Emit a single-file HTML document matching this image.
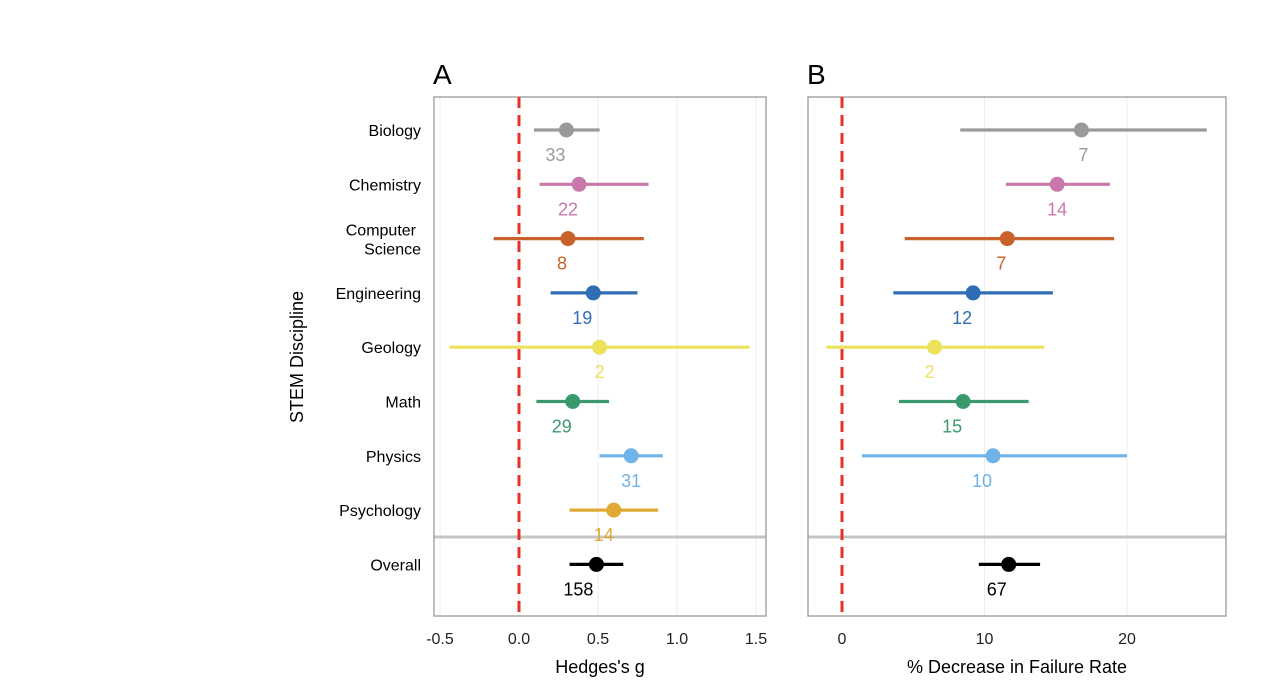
<!DOCTYPE html>
<html><head><meta charset="utf-8"><style>
body{margin:0;background:#fff;font-family:"Liberation Sans",Arial,sans-serif}
</style></head><body>
<svg id="c" width="1262" height="692" xmlns="http://www.w3.org/2000/svg" font-family="Liberation Sans, Arial, sans-serif"></svg>
<script>
const categories=["Biology","Chemistry","Computer Science","Engineering","Geology","Math","Physics","Psychology","Overall"];
const colors=["#9a9a9a","#c878aa","#c8622a","#2f6db4","#ece25c","#3a9a6e","#6fb3e8","#e0a834","#000000"];
const gEst=[0.30,0.38,0.31,0.47,0.51,0.34,0.71,0.60,0.49];
const gLo=[0.095,0.13,-0.16,0.20,-0.44,0.11,0.51,0.32,0.32];
const gHi=[0.51,0.82,0.79,0.75,1.46,0.57,0.91,0.88,0.66];
const gN=[33,22,8,19,2,29,31,14,158];
const fEst=[16.8,15.1,11.6,9.2,6.5,8.5,10.6,null,11.7];
const fLo=[8.3,11.5,4.4,3.6,-1.1,4.0,1.4,null,9.6];
const fHi=[25.6,18.8,19.1,14.8,14.2,13.1,20.0,null,13.9];
const fN=[7,14,7,12,2,15,10,null,67];
const gTicks=[-0.5,0,0.5,1.0,1.5];
const gTickLabels=["-0.5","0.0","0.5","1.0","1.5"];
const fTicks=[0,10,20];
const fTickLabels=["0","10","20"];
const gLabelShift=[-11,-11,-6,-11,0,-11,0,-10,-18];
const fLabelShift=[2,0,-6,-11,-5,-11,-11,0,-12];

const svg=document.getElementById('c');
const NS="http://www.w3.org/2000/svg";
function el(t,a,p){const e=document.createElementNS(NS,t);for(const k in a)e.setAttribute(k,a[k]);(p||svg).appendChild(e);return e;}
const rowY=i=>130+i*54.3;
function panel(id,letter,x0,x1,sx,est,lo,hi,n,ticks,tlabels,title,shift){
  const g=el('g',{});
  
  
  const top=97,bot=616;
  ticks.forEach((t,i)=>{
    const gl=el('line',{x1:sx(t),x2:sx(t),y1:top,y2:bot,stroke:'#ececec','stroke-width':1},g);
    
    
    const tl=el('text',{x:sx(t),y:644,'text-anchor':'middle','font-size':16,fill:'#222'},g);
    tl.textContent=tlabels[i];
    
    
  });
  const sep=el('line',{x1:x0,x2:x1,y1:537,y2:537,stroke:'#c4c4c4','stroke-width':3},g);
  
  
  const box=el('rect',{x:x0,y:top,width:x1-x0,height:bot-top,fill:'none',stroke:'#9a9a9a','stroke-width':1.3},g);
  
  
  const z=el('line',{x1:sx(0),x2:sx(0),y1:top,y2:bot,stroke:'#e8302a','stroke-width':3,'stroke-dasharray':'11,7'},g);
  
  
  est.forEach((v,i)=>{
    if(v===null)return;
    const y=rowY(i);
    const ln=el('line',{x1:sx(lo[i]),x2:sx(hi[i]),y1:y,y2:y,stroke:colors[i],'stroke-width':3.2},g);
    
    
    const c=el('circle',{cx:sx(v),cy:y,r:7.5,fill:colors[i]},g);
    
    
    const t=el('text',{x:sx(v)+shift[i],y:y+31,'text-anchor':'middle','font-size':18,fill:colors[i]},g);
    t.textContent=n[i];
    
    
  });
  const L=el('text',{x:x0+-1,y:84,'font-size':28,fill:'#000'},g);
  L.textContent=letter;
  
  
  const at=el('text',{x:(x0+x1)/2,y:673,'text-anchor':'middle','font-size':18,fill:'#000'},g);
  at.textContent=title;
  
  
}
const sxA=v=>519+v*158;
const sxB=v=>842+v*14.25;
panel('a','A',434,766,sxA,gEst,gLo,gHi,gN,gTicks,gTickLabels,"Hedges's g",gLabelShift);
panel('b','B',808,1226,sxB,fEst,fLo,fHi,fN,fTicks,fTickLabels,"% Decrease in Failure Rate",fLabelShift);
categories.forEach((c,i)=>{
  const y=rowY(i);
  if(c==="Computer Science"){
    ["Computer","Science"].forEach((w,k)=>{
      const t=el('text',{x:w==="Computer"?416:421,y:y-3+k*19,'text-anchor':'end','font-size':16,fill:'#000'});
      t.textContent=w;
      
      
    });
  } else {
    const t=el('text',{x:421,y:y+6,'text-anchor':'end','font-size':16,fill:'#000'});
    t.textContent=c;
    
    
  }
});
const yt=el('text',{x:0,y:0,'text-anchor':'middle','font-size':18,fill:'#000',transform:'translate(303,357) rotate(-90)'});
yt.textContent="STEM Discipline";


</script>
</body></html>
